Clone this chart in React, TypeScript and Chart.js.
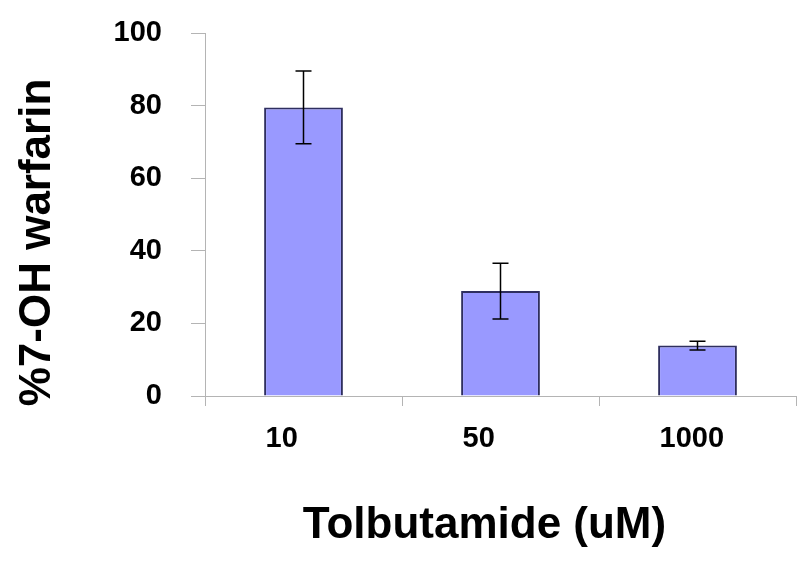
import React, { useEffect, useRef } from "react";
import { Chart, registerables } from "chart.js";

Chart.register(...registerables);

const categories = ["10", "50", "1000"];
const values = [79.5, 28.9, 13.9];
const errors = [10.0, 7.7, 1.2];
const yMin = 0;
const yMax = 100;
const yStep = 20;
const xTitle = "Tolbutamide (uM)";
const yTitle = "%7-OH warfarin";

const FONT = "'Liberation Sans', Arial, Helvetica, sans-serif";
const AXIS_GRAY = "#b4b4b4";

const errorBarPlugin = {
  id: "errorBars",
  afterDatasetsDraw(chart: any) {
    const meta = chart.getDatasetMeta(0);
    const yScale = chart.scales.y;
    const ctx = chart.ctx;
    ctx.save();
    ctx.strokeStyle = "#000000";
    ctx.lineWidth = 1.5;
    meta.data.forEach((bar: any, i: number) => {
      const v = values[i];
      const e = errors[i];
      const x = bar.x;
      const yt = yScale.getPixelForValue(v + e);
      const yb = yScale.getPixelForValue(v - e);
      const cap = 8;
      ctx.beginPath();
      ctx.moveTo(x, yt);
      ctx.lineTo(x, yb);
      ctx.moveTo(x - cap, yt);
      ctx.lineTo(x + cap, yt);
      ctx.moveTo(x - cap, yb);
      ctx.lineTo(x + cap, yb);
      ctx.stroke();
    });
    ctx.restore();
  },
};

const titlesPlugin = {
  id: "axisTitles",
  afterDraw(chart: any) {
    const ctx = chart.ctx;
    const area = chart.chartArea;
    ctx.save();
    ctx.fillStyle = "#000000";
    ctx.textAlign = "center";
    ctx.textBaseline = "alphabetic";
    ctx.font = `bold 44px ${FONT}`;
    ctx.fillText(xTitle, (area.left + area.right) / 2 - 16, 538);
    ctx.font = `bold 44px ${FONT}`;
    ctx.translate(50, (area.top + area.bottom) / 2 + 28);
    ctx.rotate(-Math.PI / 2);
    ctx.fillText(yTitle, 0, 0);
    ctx.restore();
  },
};

export default function App() {
  const canvasRef = useRef<HTMLCanvasElement | null>(null);

  useEffect(() => {
    document.body.style.margin = "0";
    const canvas = canvasRef.current;
    if (!canvas) return;
    const chart = new Chart(canvas, {
      type: "bar",
      data: {
        labels: categories,
        datasets: [
          {
            data: values,
            backgroundColor: "#9999ff",
            borderColor: "#2f2f5f",
            borderWidth: 2,
            categoryPercentage: 1,
            barPercentage: 0.4,
          },
        ],
      },
      options: {
        responsive: false,
        maintainAspectRatio: false,
        animation: false,
        layout: { padding: { top: 33, right: 4, left: 0, bottom: 0 } },
        plugins: {
          legend: { display: false },
          tooltip: { enabled: false },
          title: { display: false },
        },
        scales: {
          x: {
            grid: {
              offset: true,
              drawOnChartArea: false,
              tickLength: 10,
              color: AXIS_GRAY,
            },
            border: { color: AXIS_GRAY, width: 1 },
            ticks: {
              color: "#000000",
              font: { family: FONT, size: 29, weight: "bold" },
              align: "start",
              labelOffset: -38,
              padding: 16,
              maxRotation: 0,
              autoSkip: false,
            },
            afterFit: (s: any) => {
              s.height = 166;
              s.paddingLeft = 0;
              s.paddingRight = 0;
            },
          },
          y: {
            min: yMin,
            max: yMax,
            ticks: {
              stepSize: yStep,
              color: "#000000",
              font: { family: FONT, size: 29, weight: "bold" },
              padding: 29,
            },
            grid: {
              drawOnChartArea: false,
              tickLength: 14,
              color: AXIS_GRAY,
            },
            border: { color: AXIS_GRAY, width: 1 },
            afterFit: (s: any) => {
              s.width = 205;
              s.paddingTop = 0;
              s.paddingBottom = 0;
            },
          },
        },
      },
      plugins: [errorBarPlugin, titlesPlugin],
    });
    return () => chart.destroy();
  }, []);

  return (
    <div style={{ width: 800, height: 562, position: "relative", background: "#ffffff" }}>
      <canvas ref={canvasRef} width={800} height={562} />
    </div>
  );
}
